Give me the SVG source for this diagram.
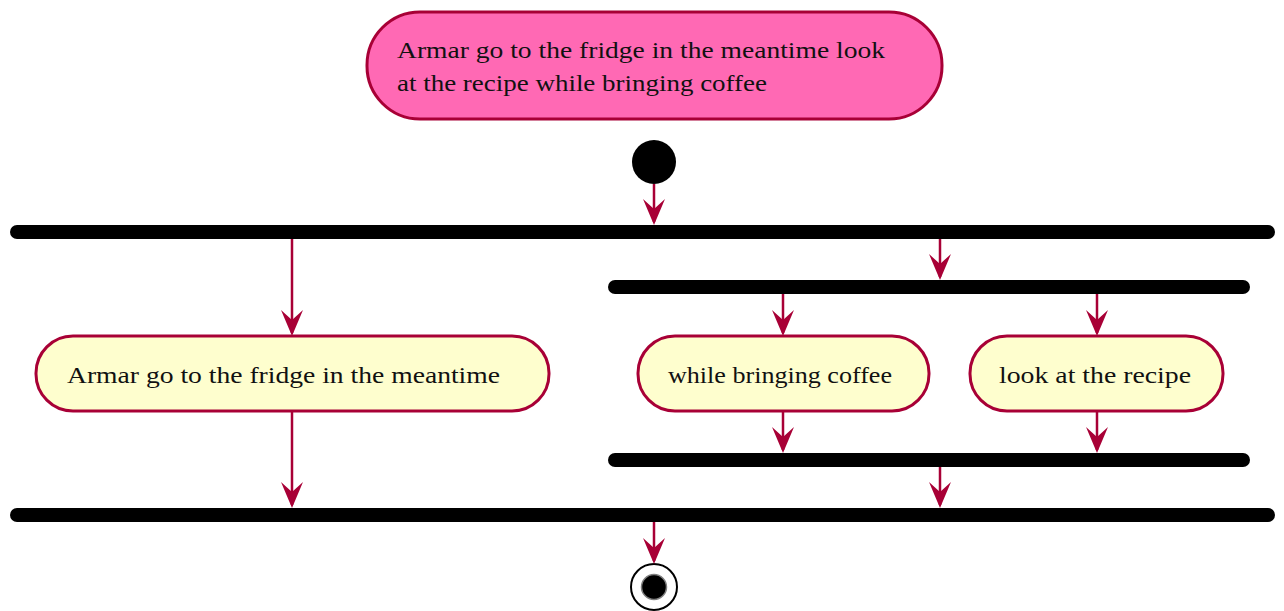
<svg xmlns="http://www.w3.org/2000/svg" width="1284" height="611" viewBox="0 0 1284 611">
<style>
.act{stroke:#A80036;stroke-width:3}
.yel{fill:#FEFECE}
.pink{fill:#FF69B4}
.bar{fill:#000}
.t{font-family:"Liberation Serif","Times New Roman",serif;font-size:24px;fill:#111}
.c{stroke:#A80036;stroke-width:2.5;fill:none}
</style>
<defs>
<marker id="ah" viewBox="-30 -12 32 24" markerWidth="32" markerHeight="24" refX="-3" refY="0" markerUnits="userSpaceOnUse" orient="auto">
<path d="M0,0 L-26,-11 L-16,0 L-26,11 Z" fill="#A80036"/>
</marker>
</defs>
<rect width="1284" height="611" fill="#fff"/>
<g id="note">
<rect class="act pink" x="367" y="12" width="575" height="107" rx="53" ry="53"/>
<text class="t" x="397" y="58" textLength="488" lengthAdjust="spacingAndGlyphs">Armar go to the fridge in the meantime look</text>
<text class="t" x="397" y="91" textLength="370" lengthAdjust="spacingAndGlyphs">at the recipe while bringing coffee</text>
</g>
<g id="start"><circle cx="654" cy="162" r="22" fill="#000"/></g>
<g id="fork1"><rect class="bar" x="10" y="225" width="1265" height="14" rx="7"/></g>
<g id="fork2"><rect class="bar" x="608" y="280" width="642" height="14" rx="7"/></g>
<g id="join2"><rect class="bar" x="608" y="453" width="642" height="14" rx="7"/></g>
<g id="join1"><rect class="bar" x="10" y="508" width="1265" height="14" rx="7"/></g>
<g id="fridge">
<rect class="act yel" x="36" y="336" width="513" height="75" rx="37" ry="37"/>
<text class="t" x="67" y="383" textLength="433" lengthAdjust="spacingAndGlyphs">Armar go to the fridge in the meantime</text>
</g>
<g id="coffee">
<rect class="act yel" x="638" y="336" width="291" height="75" rx="37" ry="37"/>
<text class="t" x="668" y="383" textLength="224" lengthAdjust="spacingAndGlyphs">while bringing coffee</text>
</g>
<g id="recipe">
<rect class="act yel" x="970" y="336" width="253" height="75" rx="37" ry="37"/>
<text class="t" x="999" y="383" textLength="192" lengthAdjust="spacingAndGlyphs">look at the recipe</text>
</g>
<g id="end">
<circle cx="654" cy="587" r="23" fill="#fff" stroke="#000" stroke-width="2"/>
<circle cx="654" cy="587" r="12.5" fill="#000" stroke="#7f7f7f" stroke-width="1.5"/>
</g>
<g id="connectors" class="c">
<line x1="654" y1="184" x2="654" y2="222" marker-end="url(#ah)"/>
<line x1="292" y1="239" x2="292" y2="333" marker-end="url(#ah)"/>
<line x1="940" y1="239" x2="940" y2="277" marker-end="url(#ah)"/>
<line x1="783" y1="294" x2="783" y2="333" marker-end="url(#ah)"/>
<line x1="1097" y1="294" x2="1097" y2="333" marker-end="url(#ah)"/>
<line x1="292" y1="412" x2="292" y2="505" marker-end="url(#ah)"/>
<line x1="783" y1="412" x2="783" y2="450" marker-end="url(#ah)"/>
<line x1="1097" y1="412" x2="1097" y2="450" marker-end="url(#ah)"/>
<line x1="940" y1="467" x2="940" y2="505" marker-end="url(#ah)"/>
<line x1="654" y1="522" x2="654" y2="561" marker-end="url(#ah)"/>
</g>
</svg>
